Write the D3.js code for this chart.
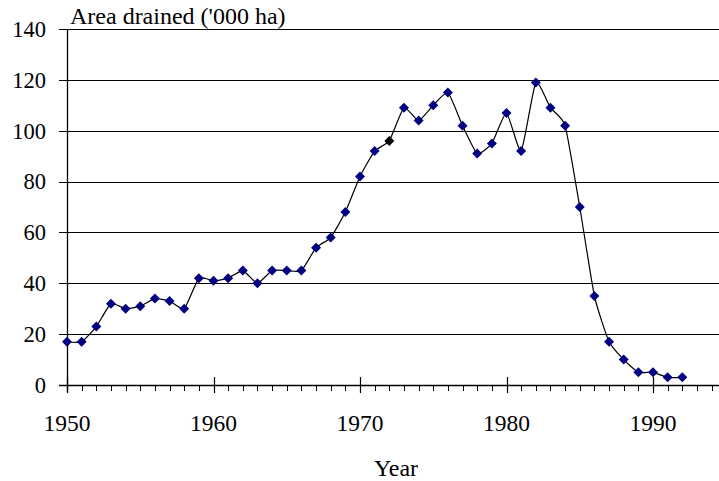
<!DOCTYPE html>
<html>
<head>
<meta charset="utf-8">
<script src="https://cdn.jsdelivr.net/npm/d3@7"></script>
<style>
  html, body { margin: 0; padding: 0; background: #fff; }
  svg { display: block; }
</style>
</head>
<body>
<svg id="chart" width="719" height="481"></svg>
<script>
const years = d3.range(1950, 1993);
const drained = [17, 17, 23, 32, 30, 31, 34, 33, 30, 42,
                 41, 42, 45, 40, 45, 45, 45, 54, 58, 68,
                 82, 92, 96, 109, 104, 110, 115, 102, 91, 95,
                 107, 92, 119, 109, 102, 70, 35, 17, 10, 5,
                 5, 3, 3];
const highlightYear = 1972;
const yTicks = [0, 20, 40, 60, 80, 100, 120, 140];
const xMajor = [1950, 1960, 1970, 1980, 1990];
const yTitle = "Area drained ('000 ha)";
const xTitle = "Year";

const svg = d3.select("#chart");
const x = d3.scaleLinear().domain([1950, 1990]).range([67, 653]);
const y = d3.scaleLinear().domain([0, 140]).range([385, 29]);
const xEnd = 719;
const ff = '"Liberation Serif", "Times New Roman", serif';

// gridlines
svg.append("g").selectAll("line").data(yTicks.filter(d => d > 0)).join("line")
  .attr("x1", x(1950)).attr("x2", xEnd)
  .attr("y1", d => Math.round(y(d)) + 0.5).attr("y2", d => Math.round(y(d)) + 0.5)
  .attr("stroke", "#000").attr("stroke-width", 1);

// y ticks
svg.append("g").selectAll("line").data(yTicks).join("line")
  .attr("x1", 59).attr("x2", x(1950))
  .attr("y1", d => Math.round(y(d)) + 0.5).attr("y2", d => Math.round(y(d)) + 0.5)
  .attr("stroke", "#000");
svg.append("g").selectAll("text").data(yTicks).join("text")
  .attr("x", 46).attr("y", d => y(d))
  .attr("dy", "0.35em").attr("text-anchor", "end")
  .style("font-family", ff).style("font-size", "22.5px").text(d => d);

// x axis line
svg.append("line").attr("x1", 59).attr("x2", xEnd)
  .attr("y1", Math.round(y(0)) + 0.5).attr("y2", Math.round(y(0)) + 0.5)
  .attr("stroke", "#000").attr("stroke-width", 1.3);
// y axis line
svg.append("line").attr("x1", Math.round(x(1950)) + 0.5).attr("x2", Math.round(x(1950)) + 0.5)
  .attr("y1", y(140)).attr("y2", 392).attr("stroke", "#000").attr("stroke-width", 1.3);

// minor ticks every year
const minorYears = d3.range(1950, 1995);
svg.append("g").selectAll("line").data(minorYears).join("line")
  .attr("x1", d => Math.round(x(d)) + 0.5).attr("x2", d => Math.round(x(d)) + 0.5)
  .attr("y1", y(0)).attr("y2", 391)
  .attr("stroke", "#000");
// major ticks
svg.append("g").selectAll("line").data(xMajor).join("line")
  .attr("x1", d => Math.round(x(d)) + 0.5).attr("x2", d => Math.round(x(d)) + 0.5)
  .attr("y1", 377).attr("y2", 393)
  .attr("stroke", "#000").attr("stroke-width", 1.2);
svg.append("g").selectAll("text").data(xMajor).join("text")
  .attr("x", d => x(d)).attr("y", 431)
  .attr("text-anchor", "middle")
  .style("font-family", ff).style("font-size", "23.5px").text(d => d);

// titles
svg.append("text").attr("x", 70).attr("y", 24)
  .style("font-family", ff).style("font-size", "24px").text(yTitle);
svg.append("text").attr("x", 396).attr("y", 476).attr("text-anchor", "middle")
  .style("font-family", ff).style("font-size", "24px").text(xTitle);

// line
const data = years.map((yr, i) => ({ yr, v: drained[i] }));
const line = d3.line().x(d => x(d.yr)).y(d => y(d.v)).curve(d3.curveCardinal.tension(0.5));
svg.append("path").datum(data).attr("d", line)
  .attr("fill", "none").attr("stroke", "#000").attr("stroke-width", 1.2);

// markers (square rotated 45deg)
const sq = d3.symbol().type(d3.symbolSquare).size(50);
svg.append("g").selectAll("path").data(data).join("path")
  .attr("d", sq)
  .attr("transform", d => `translate(${x(d.yr)},${y(d.v)}) rotate(45)`)
  .attr("fill", d => d.yr === highlightYear ? "#000" : "#000080");
</script>
</body>
</html>
